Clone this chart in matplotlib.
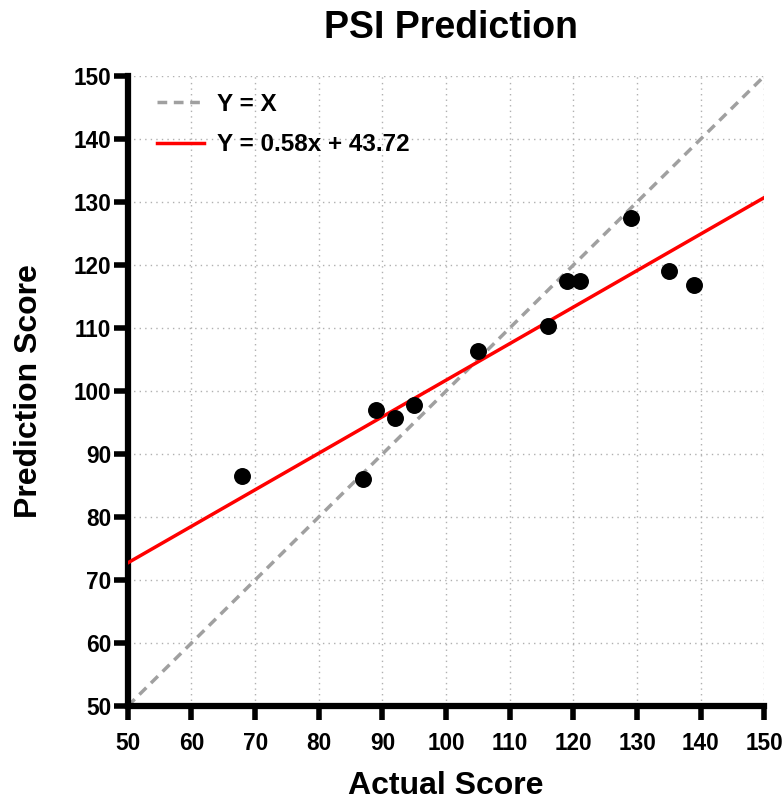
import matplotlib.pyplot as plt
import numpy as np

plt.rcParams['font.family'] = ['Liberation Sans', 'DejaVu Sans']
plt.rcParams['font.weight'] = 'bold'

# data
actual = [68, 87, 89, 92, 95, 105, 116, 119, 121, 129, 135, 139]
predicted = [86.5, 86.1, 97.0, 95.7, 97.7, 106.4, 110.3, 117.5, 117.5, 127.4, 119.0, 116.9]
slope, intercept = 0.58, 43.72
ticks = list(range(50, 151, 10))

fig = plt.figure(figsize=(7.84, 8.0), dpi=100)
ax = fig.add_axes([0.163, 0.1175, 0.812, 0.7875])

xs = np.array([50, 150])
ax.plot(xs, xs, color='#a0a0a0', linestyle=(0, (2.8, 1.9)), linewidth=2.5, label='Y = X', zorder=2)
ax.plot(xs, slope * xs + intercept, color='#ff0000', linewidth=2.5,
        label=f'Y = {slope:.2f}x + {intercept:.2f}', zorder=3)
ax.scatter(actual, predicted, s=125, color='black', zorder=4)

ax.set_xlim(50, 150)
ax.set_ylim(50, 150)
ax.set_xticks(ticks)
ax.set_yticks(ticks)
ax.tick_params(axis='both', direction='out', length=10, width=4, labelsize=16.3)
ax.tick_params(axis='x', pad=9)
ax.tick_params(axis='y', pad=2)
for lbl in ax.get_xticklabels() + ax.get_yticklabels():
    lbl.set_fontweight('bold')

for side in ['top', 'right']:
    ax.spines[side].set_visible(False)
for side in ['left', 'bottom']:
    ax.spines[side].set_linewidth(4.5)

ax.grid(True, color='#b0b0b0', linestyle=(0, (1, 3)), linewidth=1.0)
ax.set_axisbelow(True)

ax.set_xlabel('Actual Score', fontsize=23, fontweight='bold', labelpad=11)
ax.set_ylabel('Prediction Score', fontsize=23, fontweight='bold', labelpad=21)
fig.text(0.575, 0.965, 'PSI Prediction', ha='center', va='center', fontsize=27, fontweight='bold')

leg = ax.legend(loc='upper left', bbox_to_anchor=(0.034, 0.985), frameon=False,
                handlelength=1.95, handletextpad=0.55, labelspacing=0.72,
                borderaxespad=0, borderpad=0.3,
                prop={'weight': 'bold', 'size': 17.5})

fig.savefig('out.png', dpi=100)
